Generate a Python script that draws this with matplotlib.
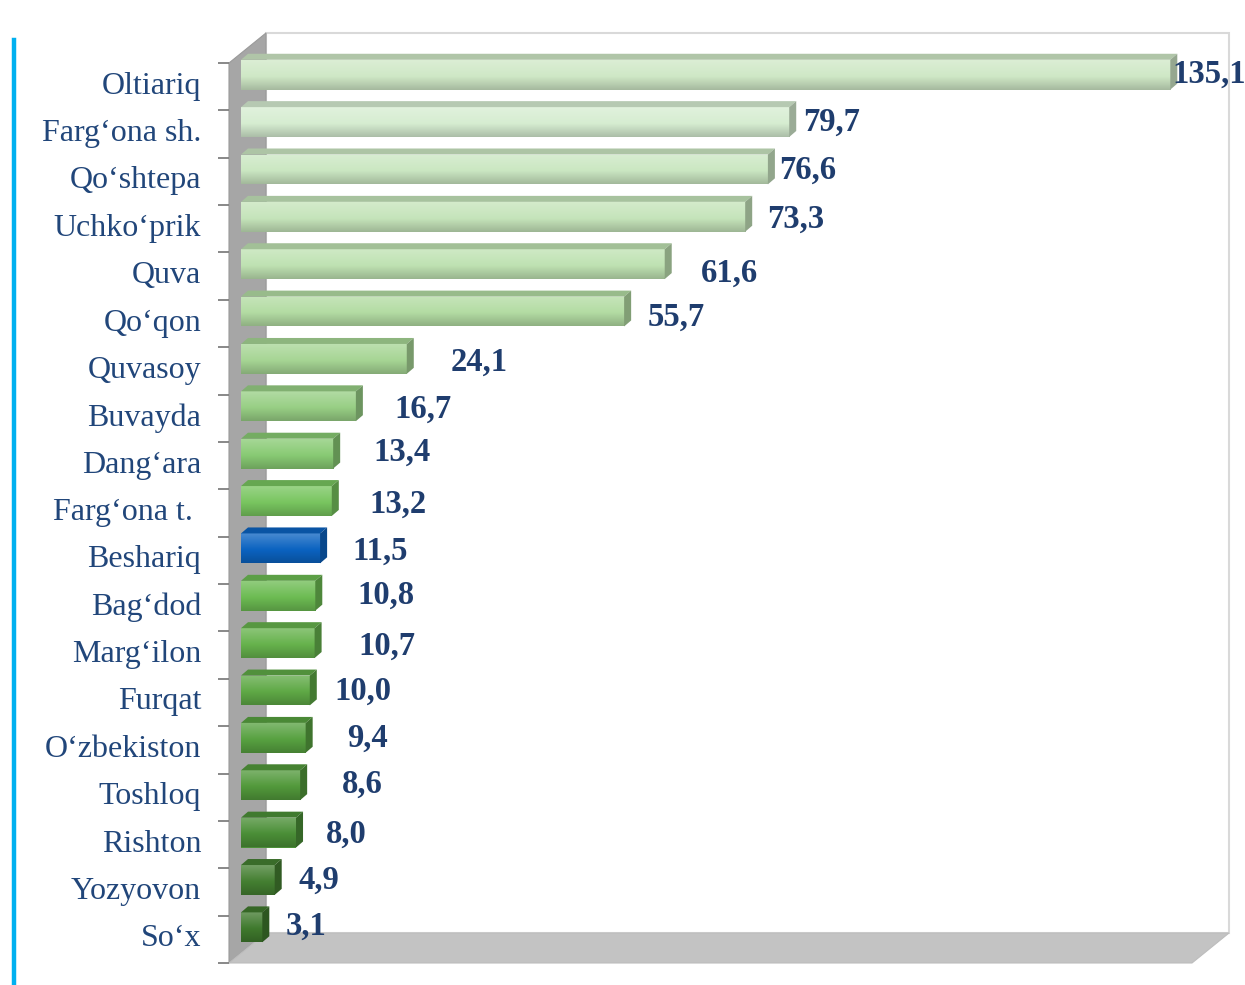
import matplotlib
matplotlib.use("Agg")
import matplotlib.pyplot as plt
import numpy as np
from matplotlib import transforms as mtransforms
from matplotlib.patches import Polygon
from matplotlib.lines import Line2D
from matplotlib.colors import to_rgb

districts = ["Oltiariq", "Farg\u2018ona sh.", "Qo\u2018shtepa", "Uchko\u2018prik", "Quva",
             "Qo\u2018qon", "Quvasoy", "Buvayda", "Dang\u2018ara", "Farg\u2018ona t. ",
             "Beshariq", "Bag\u2018dod", "Marg\u2018ilon", "Furqat", "O\u2018zbekiston",
             "Toshloq", "Rishton", "Yozyovon", "So\u2018x"]
values = [135.1, 79.7, 76.6, 73.3, 61.6, 55.7, 24.1, 16.7, 13.4, 13.2,
          11.5, 10.8, 10.7, 10.0, 9.4, 8.6, 8.0, 4.9, 3.1]
value_labels = ["135,1", "79,7", "76,6", "73,3", "61,6", "55,7", "24,1", "16,7", "13,4", "13,2",
                "11,5", "10,8", "10,7", "10,0", "9,4", "8,6", "8,0", "4,9", "3,1"]
bar_colors = ["#cfe8c6", "#d6edd1", "#cbe7c2", "#c5e4ba", "#bfe2b2", "#b3dca3", "#a6d594",
              "#98cf85", "#88ca73", "#78c55f", "#0b63c1", "#6cbb52", "#66b24c", "#5fa946",
              "#57a140", "#52993b", "#4b8f37", "#447f31", "#3f792d"]

# hand-placed label nudges (pixels): gap after the bar end, and shift from row centre
label_gap = [2, 14, 11, 22, 36, 23, 44, 39, 40, 38, 32, 42, 44, 25, 41, 42, 30, 24, 23]
label_rise = [12, 12, 11, 10, 3, 6, 9, 9, 13, 9, 9, 12, 9, 11, 12, 13, 10, 12, 13]

W, H = 1245, 985
DPI = 100
fig = plt.figure(figsize=(W / DPI, H / DPI), dpi=DPI)
fig.patch.set_facecolor("white")

# front plane of the 3-D box, in pixels
L, R, T, B = 229, 1192, 63, 963
DEPTH = (37, 30)          # box depth (right, up)
BAR_SHIFT = (12, 12)      # bars sit a little into the box
BAR_DEPTH = (7, 6)        # thickness of each bar

ax = fig.add_axes([L / W, 1 - B / H, (R - L) / W, (B - T) / H])
ax.set_facecolor("none")
n = len(values)
ax.set_xlim(0, 140)
ax.set_ylim(n - 0.5, -0.5)
for s in ax.spines.values():
    s.set_visible(False)
ax.set_xticks([])

serif = ["Liberation Serif", "DejaVu Serif"]
navy = "#1f3d6e"
ax.set_yticks(np.arange(n))
ax.set_yticklabels(districts, fontsize=23, color="#21467a", family=serif)
ax.tick_params(axis="y", which="major", length=0, pad=20)
ax.set_yticks(np.arange(n + 1) - 0.5, minor=True)
ax.tick_params(axis="y", which="minor", length=8, width=1.3, color="#7f7f7f")
lift = mtransforms.ScaledTranslation(0, 4 / DPI, fig.dpi_scale_trans)
for lab in ax.get_yticklabels():
    lab.set_transform(lab.get_transform() + lift)


def px_to_fig(x, y):
    return x / W, 1 - y / H


# back wall
dx, dy = DEPTH
back = Polygon([px_to_fig(L + dx, T - dy), px_to_fig(R + dx, T - dy),
                px_to_fig(R + dx, B - dy), px_to_fig(L + dx, B - dy)],
               closed=True, transform=fig.transFigure, facecolor="white",
               edgecolor="#d9d9d9", linewidth=1.5, zorder=-3)
fig.add_artist(back)
# left wall
left_wall = Polygon([px_to_fig(L, T), px_to_fig(L + dx, T - dy),
                     px_to_fig(L + dx, B - dy), px_to_fig(L, B)],
                    closed=True, transform=fig.transFigure, facecolor="#a6a6a6",
                    edgecolor="#9a9a9a", linewidth=0.8, zorder=-2)
fig.add_artist(left_wall)
# floor
floor = Polygon([px_to_fig(L, B), px_to_fig(L + dx, B - dy),
                 px_to_fig(R + dx, B - dy), px_to_fig(R, B)],
                closed=True, transform=fig.transFigure, facecolor="#c3c3c3",
                edgecolor="#bdbdbd", linewidth=0.8, zorder=-2)
fig.add_artist(floor)

# vertical accent line on the left
fig.add_artist(Line2D([14 / W, 14 / W], [0, 1 - 40 / H], transform=fig.transFigure,
                      color="#00b0f0", linewidth=3.2))

# bars (front faces) drawn in data space, shifted into the box
bar_h = 0.63
shift = mtransforms.offset_copy(ax.transData, fig=fig, x=BAR_SHIFT[0], y=BAR_SHIFT[1], units="dots")
bars = ax.barh(np.arange(n), values, height=bar_h, left=0, color=bar_colors,
               edgecolor="none", zorder=3)


def shade(c, f):
    r, g, b = to_rgb(c)
    return (r * f, g * f, b * f)


def tint(c, f):
    r, g, b = to_rgb(c)
    return (r + (1 - r) * f, g + (1 - g) * f, b + (1 - b) * f)


bdx, bdy = BAR_DEPTH
for i, (patch, c) in enumerate(zip(bars, bar_colors)):
    patch.set_transform(shift)
    patch.set_clip_on(False)
    # vertical gradient on the front face
    grad = np.linspace(0, 1, 64)[:, None]
    top_c = np.array(tint(c, 0.25))
    mid_c = np.array(to_rgb(c))
    bot_c = np.array(shade(c, 0.8))
    img = np.where(grad < 0.55,
                   top_c + (mid_c - top_c) * (grad / 0.55),
                   mid_c + (bot_c - mid_c) * ((grad - 0.55) / 0.45))
    img = np.repeat(img[:, None, :], 2, axis=1)
    im = ax.imshow(img, extent=(0, values[i], i + bar_h / 2, i - bar_h / 2),
                   transform=shift, aspect="auto", zorder=3.2, interpolation="bilinear")
    im.set_clip_path(patch)

    # top and right faces, built from the bar's own corners in display space
    x0, y_top = shift.transform((0, i - bar_h / 2))
    x1, y_bot = shift.transform((values[i], i + bar_h / 2))
    top = Polygon([(x0, y_top), (x1, y_top), (x1 + bdx, y_top + bdy), (x0 + bdx, y_top + bdy)],
                  closed=True, transform=mtransforms.IdentityTransform(),
                  facecolor=shade(c, 0.85), edgecolor="none", zorder=3.5, clip_on=False)
    side = Polygon([(x1, y_top), (x1 + bdx, y_top + bdy), (x1 + bdx, y_bot + bdy), (x1, y_bot)],
                   closed=True, transform=mtransforms.IdentityTransform(),
                   facecolor=shade(c, 0.72), edgecolor="none", zorder=3.5, clip_on=False)
    ax.add_artist(top)
    ax.add_artist(side)

    # value label
    lt = mtransforms.offset_copy(ax.transData, fig=fig,
                                 x=BAR_SHIFT[0] + label_gap[i], y=label_rise[i], units="dots")
    ax.text(values[i], i, value_labels[i], transform=lt, ha="left", va="center",
            fontsize=23.5, fontweight="bold", color=navy, family=serif, zorder=5,
            clip_on=False)

ax.set_xlim(0, 140)
ax.set_ylim(n - 0.5, -0.5)

fig.savefig("out.png", dpi=DPI)
